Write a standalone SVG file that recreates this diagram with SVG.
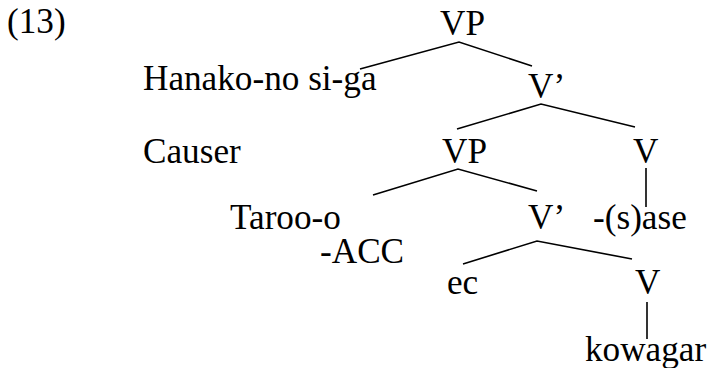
<svg xmlns="http://www.w3.org/2000/svg" width="720" height="368" viewBox="0 0 720 368">
<rect width="720" height="368" fill="#fff"/>
<g id="label13"><text transform="translate(7,33) scale(1.1)" font-family="'Liberation Serif'" font-size="32">(13)</text></g>
<g id="vp1"><text transform="translate(440,35) scale(1.1)" font-family="'Liberation Serif'" font-size="32">VP</text></g>
<g id="hanako"><text transform="translate(143,90) scale(1.1)" font-family="'Liberation Serif'" font-size="32">Hanako-no si-ga</text></g>
<g id="vbar1"><text transform="translate(528,98) scale(1.1)" font-family="'Liberation Serif'" font-size="32">V’</text></g>
<g id="causer"><text transform="translate(143,163) scale(1.1)" font-family="'Liberation Serif'" font-size="32">Causer</text></g>
<g id="vp2"><text transform="translate(442,163) scale(1.1)" font-family="'Liberation Serif'" font-size="32">VP</text></g>
<g id="v1"><text transform="translate(633,163) scale(1.1)" font-family="'Liberation Serif'" font-size="32">V</text></g>
<g id="taroo"><text transform="translate(230,229) scale(1.1)" font-family="'Liberation Serif'" font-size="32">Taroo-o</text></g>
<g id="acc"><text transform="translate(320,263) scale(1.1)" font-family="'Liberation Serif'" font-size="32">-ACC</text></g>
<g id="vbar2"><text transform="translate(528,229) scale(1.1)" font-family="'Liberation Serif'" font-size="32">V’</text></g>
<g id="sase"><text transform="translate(593,229) scale(1.1)" font-family="'Liberation Serif'" font-size="32">-(s)ase</text></g>
<g id="ec"><text transform="translate(447,294) scale(1.1)" font-family="'Liberation Serif'" font-size="32">ec</text></g>
<g id="v2"><text transform="translate(635,294) scale(1.1)" font-family="'Liberation Serif'" font-size="32">V</text></g>
<g id="kowagar"><text transform="translate(585,361) scale(1.1)" font-family="'Liberation Serif'" font-size="32">kowagar</text></g>
<g id="connectors" stroke="#000" stroke-width="1.6" fill="none">
<polyline points="360,69 459,42 532,66"/>
<polyline points="457,129 541,104 635,127"/>
<polyline points="373,195 458,169 537,191"/>
<line x1="646" y1="168" x2="646" y2="207"/>
<polyline points="463,264 537,241 632,259"/>
<line x1="647" y1="302" x2="647" y2="339"/>
</g>
</svg>
